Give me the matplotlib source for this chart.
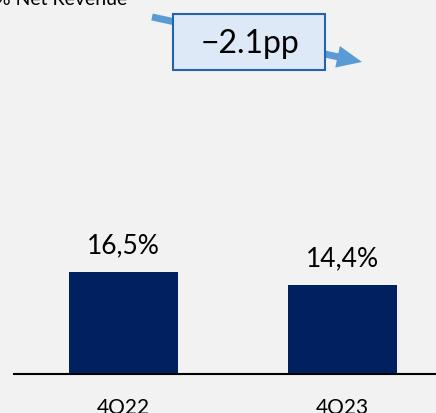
import matplotlib.pyplot as plt
from matplotlib.patches import Rectangle, FancyArrow

quarters = ['4Q22', '4Q23']
net_revenue_pct = [16.5, 14.4]
change_label = '\u22122.1pp'
title = '% Net Revenue'

plt.rcParams['font.family'] = ['Lato', 'DejaVu Sans']

W, H = 436, 414
fig = plt.figure(figsize=(W / 100, H / 100), dpi=100, facecolor='#f2f2f2')

# bar axes: bottom edge is the baseline, 1 unit ~ 6.16 px
base_y = 374.5
left_px = 14
ax = fig.add_axes([left_px / W, (H - base_y) / H, (W - left_px) / W, base_y / H])
ax.set_facecolor('#f2f2f2')
ax.bar(range(len(quarters)), net_revenue_pct, width=0.5, color='#002060', zorder=2)
ax.set_xlim(-0.5, -0.5 + (W - left_px) / 219)
ax.set_ylim(0, base_y / 6.16)

for i, v in enumerate(net_revenue_pct):
    ax.annotate(f'{v:.1f}%'.replace('.', ','), (i, v), xytext=(0, 14),
                textcoords='offset points', ha='center', va='baseline',
                fontsize=19, color='black')

ax.set_xticks(range(len(quarters)))
ax.set_xticklabels(quarters, fontsize=15)
ax.tick_params(axis='x', length=0, pad=17)
ax.set_yticks([])
for s in ['top', 'left', 'right']:
    ax.spines[s].set_visible(False)
ax.spines['bottom'].set_linewidth(1.5)
ax.spines['bottom'].set_color('black')

# overlay in pixel units for the change callout
ov = fig.add_axes([0, 0, 1, 1])
ov.set_xlim(0, W)
ov.set_ylim(H, 0)
ov.axis('off')
ov.patch.set_alpha(0)

ov.add_patch(FancyArrow(152, 18, 362 - 152, 63 - 18, width=7, head_width=22,
                        head_length=25, length_includes_head=True,
                        color='#5b9bd5', lw=0, zorder=1))
ov.add_patch(Rectangle((173, 15), 152, 56, facecolor='#dde9f6',
                       edgecolor='#2563ad', lw=1.5, zorder=2))
ov.text(250, 44, change_label, ha='center', va='center', fontsize=23, zorder=3)

fig.text(-0.012, (H - 5) / H, title, ha='left', va='baseline', fontsize=14)

fig.savefig('out.png', dpi=100, facecolor=fig.get_facecolor())
